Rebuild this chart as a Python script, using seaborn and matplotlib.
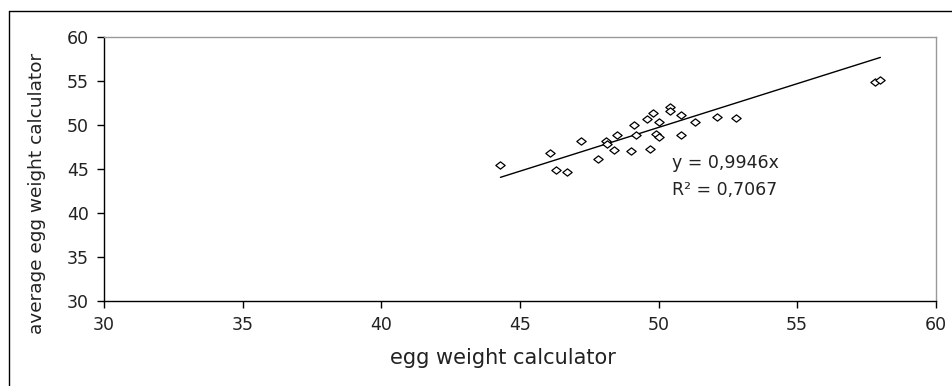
import numpy as np
import pandas as pd
import matplotlib
matplotlib.use("Agg")
import matplotlib.pyplot as plt
from matplotlib.path import Path
from matplotlib.lines import Line2D
import seaborn as sns

# data
egg_weight_calc = [44.3, 46.1, 46.3, 46.7, 47.2, 47.8, 48.1, 48.15, 48.4, 48.5,
                   49.0, 49.1, 49.2, 49.7, 49.6, 49.8, 50.0, 49.9, 50.0, 50.4,
                   50.4, 50.8, 50.8, 51.3, 52.1, 52.8, 57.8, 58.0]
avg_egg_weight = [45.5, 46.8, 44.9, 44.7, 48.2, 46.2, 48.2, 47.9, 47.2, 48.9,
                  47.1, 50.0, 48.9, 47.3, 50.7, 51.4, 50.3, 49.0, 48.6, 52.1,
                  51.6, 51.1, 48.9, 50.4, 50.9, 50.8, 54.9, 55.1]
slope = 0.9946
r_squared = 0.7067
x_ticks = [30, 35, 40, 45, 50, 55, 60]
y_ticks = [30, 35, 40, 45, 50, 55, 60]

sns.set_theme(style="white")
plt.rcParams['font.family'] = ['DejaVu Sans']

df = pd.DataFrame({"x": egg_weight_calc, "y": avg_egg_weight})

fig = plt.figure(figsize=(9.53, 3.86), dpi=100)
ax = fig.add_axes([0.109, 0.220, 0.873, 0.684])

diamond = Path([(-1.0, 0.0), (0.0, 0.78), (1.0, 0.0), (0.0, -0.78), (-1.0, 0.0)],
               [Path.MOVETO, Path.LINETO, Path.LINETO, Path.LINETO, Path.CLOSEPOLY])

sns.scatterplot(data=df, x="x", y="y", ax=ax, marker=diamond, s=45,
                facecolor="white", edgecolor="black", linewidth=0.9, zorder=3)

xl = np.array([min(egg_weight_calc), max(egg_weight_calc)])
sns.lineplot(x=xl, y=slope * xl, ax=ax, color="black", linewidth=1.0, zorder=2)

ax.text(50.5, 45.7, "y = " + f"{slope:.4f}".replace('.', ',') + "x",
        fontsize=12.5, va="center", ha="left", color="#222222")
ax.text(50.5, 42.6, "R² = " + f"{r_squared:.4f}".replace('.', ','),
        fontsize=12.5, va="center", ha="left", color="#222222")

ax.set_xlim(30, 60)
ax.set_ylim(30, 60)
ax.set_xticks(x_ticks)
ax.set_yticks(y_ticks)
ax.tick_params(axis="both", direction="out", length=5, width=1, color="black",
               labelsize=12.5, labelcolor="#222222", bottom=True, left=True, pad=6)
ax.set_xlabel("egg weight calculator", fontsize=15, color="#222222")
ax.set_ylabel("average egg weight calculator", fontsize=13.3, color="#222222")
ax.xaxis.set_label_coords((503 - 104) / 832, (301 - 358) / 264)
ax.xaxis.label.set_va("center")
ax.yaxis.set_label_coords((37 - 104) / 832, (301 - 193) / 264)
ax.yaxis.label.set_va("center")

for s in ["left", "bottom"]:
    ax.spines[s].set_color("black")
    ax.spines[s].set_linewidth(1.0)
for s in ["top", "right"]:
    ax.spines[s].set_color("#999999")
    ax.spines[s].set_linewidth(1.0)

# chart-area border (only top and left visible in the reference crop)
fig.add_artist(Line2D([9.5 / 953, 9.5 / 953], [0, 1 - 11 / 386],
                      transform=fig.transFigure, color="black", linewidth=1.0))
fig.add_artist(Line2D([9.5 / 953, 1], [1 - 11 / 386, 1 - 11 / 386],
                      transform=fig.transFigure, color="black", linewidth=1.0))

fig.savefig("out.png", dpi=100, facecolor="white")
